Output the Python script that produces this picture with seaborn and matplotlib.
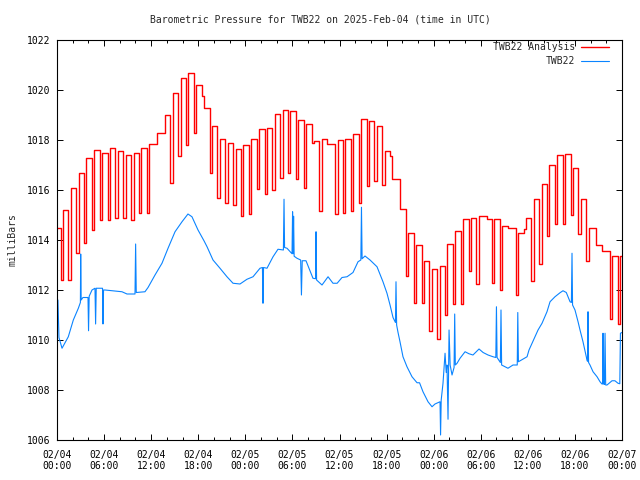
import numpy as np
import pandas as pd
import matplotlib
matplotlib.use("Agg")
import matplotlib.pyplot as plt
from matplotlib.ticker import MultipleLocator
import seaborn as sns

# Analysis (red): level held after each hour mark, and the dip that follows it
# index 0 is the hour before 02/04 00:00, then hours 0..71
analysis_high = [1014.5, 1015.2, 1016.1, 1016.7, 1017.3, 1017.6, 1017.5, 1017.7, 1017.55, 1017.4,
                 1017.5, 1017.7, 1017.85, 1018.3, 1019.0, 1019.9, 1020.5, 1020.7, 1020.2, 1019.3,
                 1018.55, 1018.05, 1017.9, 1017.65, 1017.8, 1018.05, 1018.45, 1018.5, 1019.05, 1019.2,
                 1019.15, 1018.8, 1018.65, 1017.95, 1018.05, 1017.85, 1018.0, 1018.05, 1018.25, 1018.85,
                 1018.75, 1018.55, 1017.55, 1016.45, 1015.25, 1014.3, 1013.8, 1013.15, 1012.85, 1012.95,
                 1013.85, 1014.35, 1014.85, 1014.9, 1014.95, 1014.85, 1014.85, 1014.55, 1014.5, 1014.3,
                 1014.9, 1015.65, 1016.25, 1017.0, 1017.4, 1017.45, 1016.9, 1015.65, 1014.5, 1013.8,
                 1013.55, 1013.35, 1013.35]
analysis_dip = [1012.4, 1012.4, 1013.5, 1013.9, 1014.4, 1014.8, 1014.8, 1014.9, 1014.9, 1014.8,
                1015.1, 1015.1, 1017.85, 1018.3, 1016.3, 1017.35, 1017.8, 1018.3, 1019.75, 1016.7,
                1015.7, 1015.5, 1015.4, 1014.95, 1015.05, 1016.05, 1015.85, 1016.0, 1016.5, 1016.7,
                1016.45, 1016.1, 1017.9, 1015.15, 1017.85, 1015.05, 1015.1, 1015.15, 1015.5, 1016.15,
                1016.35, 1016.2, 1017.35, 1016.45, 1012.55, 1011.5, 1011.5, 1010.35, 1010.05, 1011.0,
                1011.45, 1011.45, 1012.75, 1012.25, 1014.95, 1012.3, 1012.0, 1014.5, 1011.8, 1014.45,
                1012.35, 1013.05, 1014.15, 1014.65, 1014.65, 1015.0, 1014.25, 1013.15, 1014.5, 1013.55,
                1010.85, 1010.65, 1013.35]

# Station observations (blue), hours since 02/04 00:00
station_hours = [0.0, 0.12, 0.25, 0.64, 1.44, 2.08, 2.72, 2.98, 3.02, 3.08,
                 3.31, 3.95, 4.02, 4.1, 4.46, 4.84, 4.92, 5.0, 5.8, 5.86,
                 5.93, 6.12, 8.28, 8.92, 9.94, 10.02, 10.1, 11.21, 11.6, 12.49,
                 13.38, 14.15, 15.04, 15.93, 16.69, 17.2, 17.97, 18.73, 19.12, 19.88,
                 20.77, 21.66, 22.43, 23.32, 24.21, 24.98, 25.87, 26.18, 26.25, 26.32,
                 26.76, 27.53, 28.16, 28.85, 28.93, 29.0, 29.31, 29.95, 30.02, 30.08,
                 30.15, 30.22, 30.58, 31.05, 31.15, 31.25, 31.73, 32.62, 32.95, 33.01,
                 33.08, 33.77, 34.54, 35.17, 35.7, 36.32, 36.96, 37.72, 38.36, 38.72,
                 38.8, 38.88, 39.25, 39.89, 40.78, 41.54, 42.05, 42.44, 42.82, 43.13,
                 43.2, 43.28, 43.46, 43.71, 44.09, 44.6, 45.24, 45.88, 46.2, 46.64,
                 47.28, 47.79, 48.17, 48.81, 48.88, 48.96, 49.19, 49.45, 49.6, 49.7,
                 49.83, 49.96, 50.1, 50.34, 50.6, 50.68, 50.76, 50.98, 51.36, 52.0,
                 52.5, 53.01, 53.78, 54.3, 54.93, 55.56, 55.92, 56.0, 56.08, 56.5,
                 56.58, 56.66, 57.47, 58.11, 58.65, 58.72, 58.8, 59.9, 60.15, 61.3,
                 61.81, 62.44, 62.83, 63.46, 64.1, 64.48, 64.9, 65.38, 65.55, 65.63,
                 65.7, 66.01, 66.4, 66.65, 67.03, 67.54, 67.6, 67.67, 67.74, 67.92,
                 68.31, 68.82, 69.2, 69.45, 69.52, 69.58, 69.66, 69.76, 69.84, 69.92,
                 70.09, 70.73, 71.1, 71.49, 71.72, 71.8, 72.0]
station_mb = [1011.1, 1011.6, 1010.1, 1009.67, 1010.13, 1010.8, 1011.27, 1011.5, 1013.44, 1011.6,
              1011.7, 1011.7, 1010.37, 1011.75, 1012.0, 1012.07, 1010.64, 1012.07, 1012.07, 1010.64,
              1012.0, 1012.0, 1011.93, 1011.84, 1011.84, 1013.84, 1011.9, 1011.93, 1012.1, 1012.6,
              1013.07, 1013.67, 1014.33, 1014.73, 1015.04, 1014.93, 1014.4, 1013.97, 1013.73, 1013.2,
              1012.87, 1012.53, 1012.27, 1012.24, 1012.43, 1012.53, 1012.87, 1012.9, 1011.47, 1012.9,
              1012.87, 1013.33, 1013.63, 1013.6, 1015.63, 1013.7, 1013.67, 1013.45, 1015.13, 1013.45,
              1014.95, 1013.35, 1013.27, 1013.2, 1011.8, 1013.17, 1013.17, 1012.47, 1012.45, 1014.33,
              1012.4, 1012.2, 1012.53, 1012.27, 1012.27, 1012.5, 1012.53, 1012.7, 1013.13, 1013.2,
              1015.31, 1013.25, 1013.36, 1013.2, 1012.93, 1012.33, 1011.87, 1011.4, 1010.9, 1010.7,
              1012.33, 1010.6, 1010.3, 1009.93, 1009.33, 1008.93, 1008.53, 1008.29, 1008.29, 1007.93,
              1007.53, 1007.33, 1007.44, 1007.53, 1006.2, 1007.6, 1008.27, 1009.47, 1008.7, 1009.0,
              1006.83, 1010.4, 1009.0, 1008.6, 1008.9, 1011.04, 1009.0, 1009.07, 1009.27, 1009.53,
              1009.45, 1009.4, 1009.64, 1009.5, 1009.4, 1009.33, 1009.3, 1011.33, 1009.3, 1009.1,
              1011.2, 1009.0, 1008.87, 1009.0, 1009.0, 1011.1, 1009.13, 1009.33, 1009.6, 1010.4,
              1010.67, 1011.13, 1011.53, 1011.73, 1011.89, 1011.97, 1011.9, 1011.53, 1011.5, 1013.47,
              1011.4, 1011.2, 1010.73, 1010.4, 1009.93, 1009.2, 1009.15, 1011.13, 1009.1, 1009.0,
              1008.73, 1008.53, 1008.33, 1008.24, 1008.24, 1010.27, 1008.24, 1008.22, 1010.27, 1008.2,
              1008.2, 1008.37, 1008.37, 1008.27, 1008.25, 1010.27, 1010.3]

tick_hours = [0, 6, 12, 18, 24, 30, 36, 42, 48, 54, 60, 66, 72]
tick_labels = ["02/04\n00:00", "02/04\n06:00", "02/04\n12:00", "02/04\n18:00",
               "02/05\n00:00", "02/05\n06:00", "02/05\n12:00", "02/05\n18:00",
               "02/06\n00:00", "02/06\n06:00", "02/06\n12:00", "02/06\n18:00",
               "02/07\n00:00"]

# step series for the analysis: high level, then the dip within the same hour
red_t, red_v = [], []
for k, (hi, lo) in enumerate(zip(analysis_high, analysis_dip)):
    red_t += [k - 1 + 0.75, k - 1 + 1.45]
    red_v += [hi, lo]
analysis = pd.DataFrame({"hours": red_t, "mb": red_v})
station = pd.DataFrame({"hours": station_hours, "mb": station_mb})

sns.set_theme(style="ticks")
plt.rcParams["font.family"] = ["DejaVu Sans Mono", "DejaVu Sans"]
plt.rcParams["font.size"] = 7

fig = plt.figure(figsize=(6.4, 4.8), dpi=100)
ax = fig.add_axes([57 / 640, 40 / 480, 565 / 640, 400 / 480])

sns.lineplot(data=analysis, x="hours", y="mb", ax=ax, color="#ff0000", linewidth=1.0,
             drawstyle="steps-post", estimator=None, label="TWB22 Analysis")
sns.lineplot(data=station, x="hours", y="mb", ax=ax, color="#0a84ff", linewidth=0.8,
             estimator=None, label="TWB22")

ax.set_xlim(0, 72)
ax.set_ylim(1006, 1022)
ax.set_xticks(tick_hours)
ax.set_xticklabels(tick_labels)
ax.xaxis.set_minor_locator(MultipleLocator(2))
ax.set_yticks(range(1006, 1023, 2))
ax.set_xlabel("")
ax.set_ylabel("")
ax.tick_params(which="both", direction="in", top=True, right=True, colors="black",
               labelsize=7, width=0.7)
ax.tick_params(which="major", length=4.5)
ax.tick_params(which="minor", length=2.2)
ax.tick_params(axis="x", pad=7)
ax.tick_params(axis="y", pad=5)
for s in ax.spines.values():
    s.set_visible(True)
    s.set_color("black")
    s.set_linewidth(0.8)

ax.legend(loc="upper right", bbox_to_anchor=(1 - 13 / 565, 1 - 2 / 400), frameon=False,
          markerfirst=False, borderpad=0, borderaxespad=0, handlelength=2.9,
          handletextpad=0.6, labelspacing=0.45, fontsize=7)

fig.text(0.5, 1 - 20 / 480, "Barometric Pressure for TWB22 on 2025-Feb-04 (time in UTC)",
         ha="center", va="center", fontsize=7)
fig.text(13 / 640, 0.5, "milliBars", rotation=90, ha="center", va="center", fontsize=7)

fig.savefig("out.png", dpi=100)
